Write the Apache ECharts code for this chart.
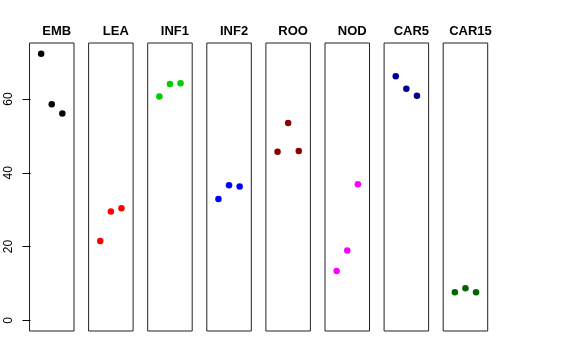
<!DOCTYPE html>
<html>
<head>
<meta charset="utf-8">
<script src="https://cdn.jsdelivr.net/npm/echarts@6/dist/echarts.min.js"></script>
<style>
html,body{margin:0;padding:0;background:#fff;}
#chart{width:576px;height:360px;}
</style>
</head>
<body>
<div id="chart"></div>
<script>
var categories = ['EMB', 'LEA', 'INF1', 'INF2', 'ROO', 'NOD', 'CAR5', 'CAR15'];
var positions = [1, 2, 3];
var valuesEMB = [72.3, 58.6, 56.1];
var valuesLEA = [21.5, 29.5, 30.4];
var valuesINF1 = [60.7, 64.1, 64.3];
var valuesINF2 = [32.9, 36.6, 36.3];
var valuesROO = [45.7, 53.5, 45.9];
var valuesNOD = [13.4, 18.9, 36.9];
var valuesCAR5 = [66.2, 62.8, 60.9];
var valuesCAR15 = [7.6, 8.7, 7.6];
var yTicks = [0, 20, 40, 60];
var colors = ['#000000', '#FF0000', '#00CD00', '#0000FF', '#8B0000', '#FF00FF', '#00008B', '#006400'];

var allValues = [valuesEMB, valuesLEA, valuesINF1, valuesINF2, valuesROO, valuesNOD, valuesCAR5, valuesCAR15];

var FONT = '"Liberation Sans", Arial, Helvetica, sans-serif';
var panelLeft = 29.5, panelStep = 59.1, panelWidth = 44.5, panelTop = 43, panelHeight = 288;

var grids = [], xAxes = [], yAxes = [], series = [], titles = [];
categories.forEach(function (name, i) {
  var left = panelLeft + i * panelStep;
  grids.push({
    left: left, top: panelTop, width: panelWidth, height: panelHeight,
    show: true, borderColor: '#222', borderWidth: 1, backgroundColor: 'transparent',
    containLabel: false
  });
  xAxes.push({
    type: 'value', gridIndex: i, min: -0.1, max: 4.1, show: false
  });
  var first = i === 0;
  yAxes.push({
    type: 'value', gridIndex: i, min: -2.9, max: 75.2,
    show: first,
    axisLine: { show: false },
    splitLine: { show: false },
    axisTick: { show: first, length: 8, lineStyle: { color: '#000', width: 1 }, customValues: yTicks },
    axisLabel: {
      show: first, rotate: 90, margin: 15, color: '#000', fontSize: 12, fontFamily: FONT,
      customValues: yTicks
    }
  });
  titles.push({
    text: name, left: left + panelWidth / 2, top: 20, textAlign: 'center',
    textStyle: { fontSize: 13, fontWeight: 'bold', color: '#000', fontFamily: FONT }
  });
  series.push({
    type: 'scatter', name: name, xAxisIndex: i, yAxisIndex: i,
    symbol: 'circle', symbolSize: 6.5,
    itemStyle: { color: colors[i], opacity: 1 },
    data: positions.map(function (p, k) { return [p, allValues[i][k]]; }),
    animation: false
  });
});

var chart = echarts.init(document.getElementById('chart'), null, { renderer: 'canvas' });
chart.setOption({
  backgroundColor: '#fff',
  animation: false,
  title: titles,
  grid: grids,
  xAxis: xAxes,
  yAxis: yAxes,
  series: series
});
</script>
</body>
</html>
